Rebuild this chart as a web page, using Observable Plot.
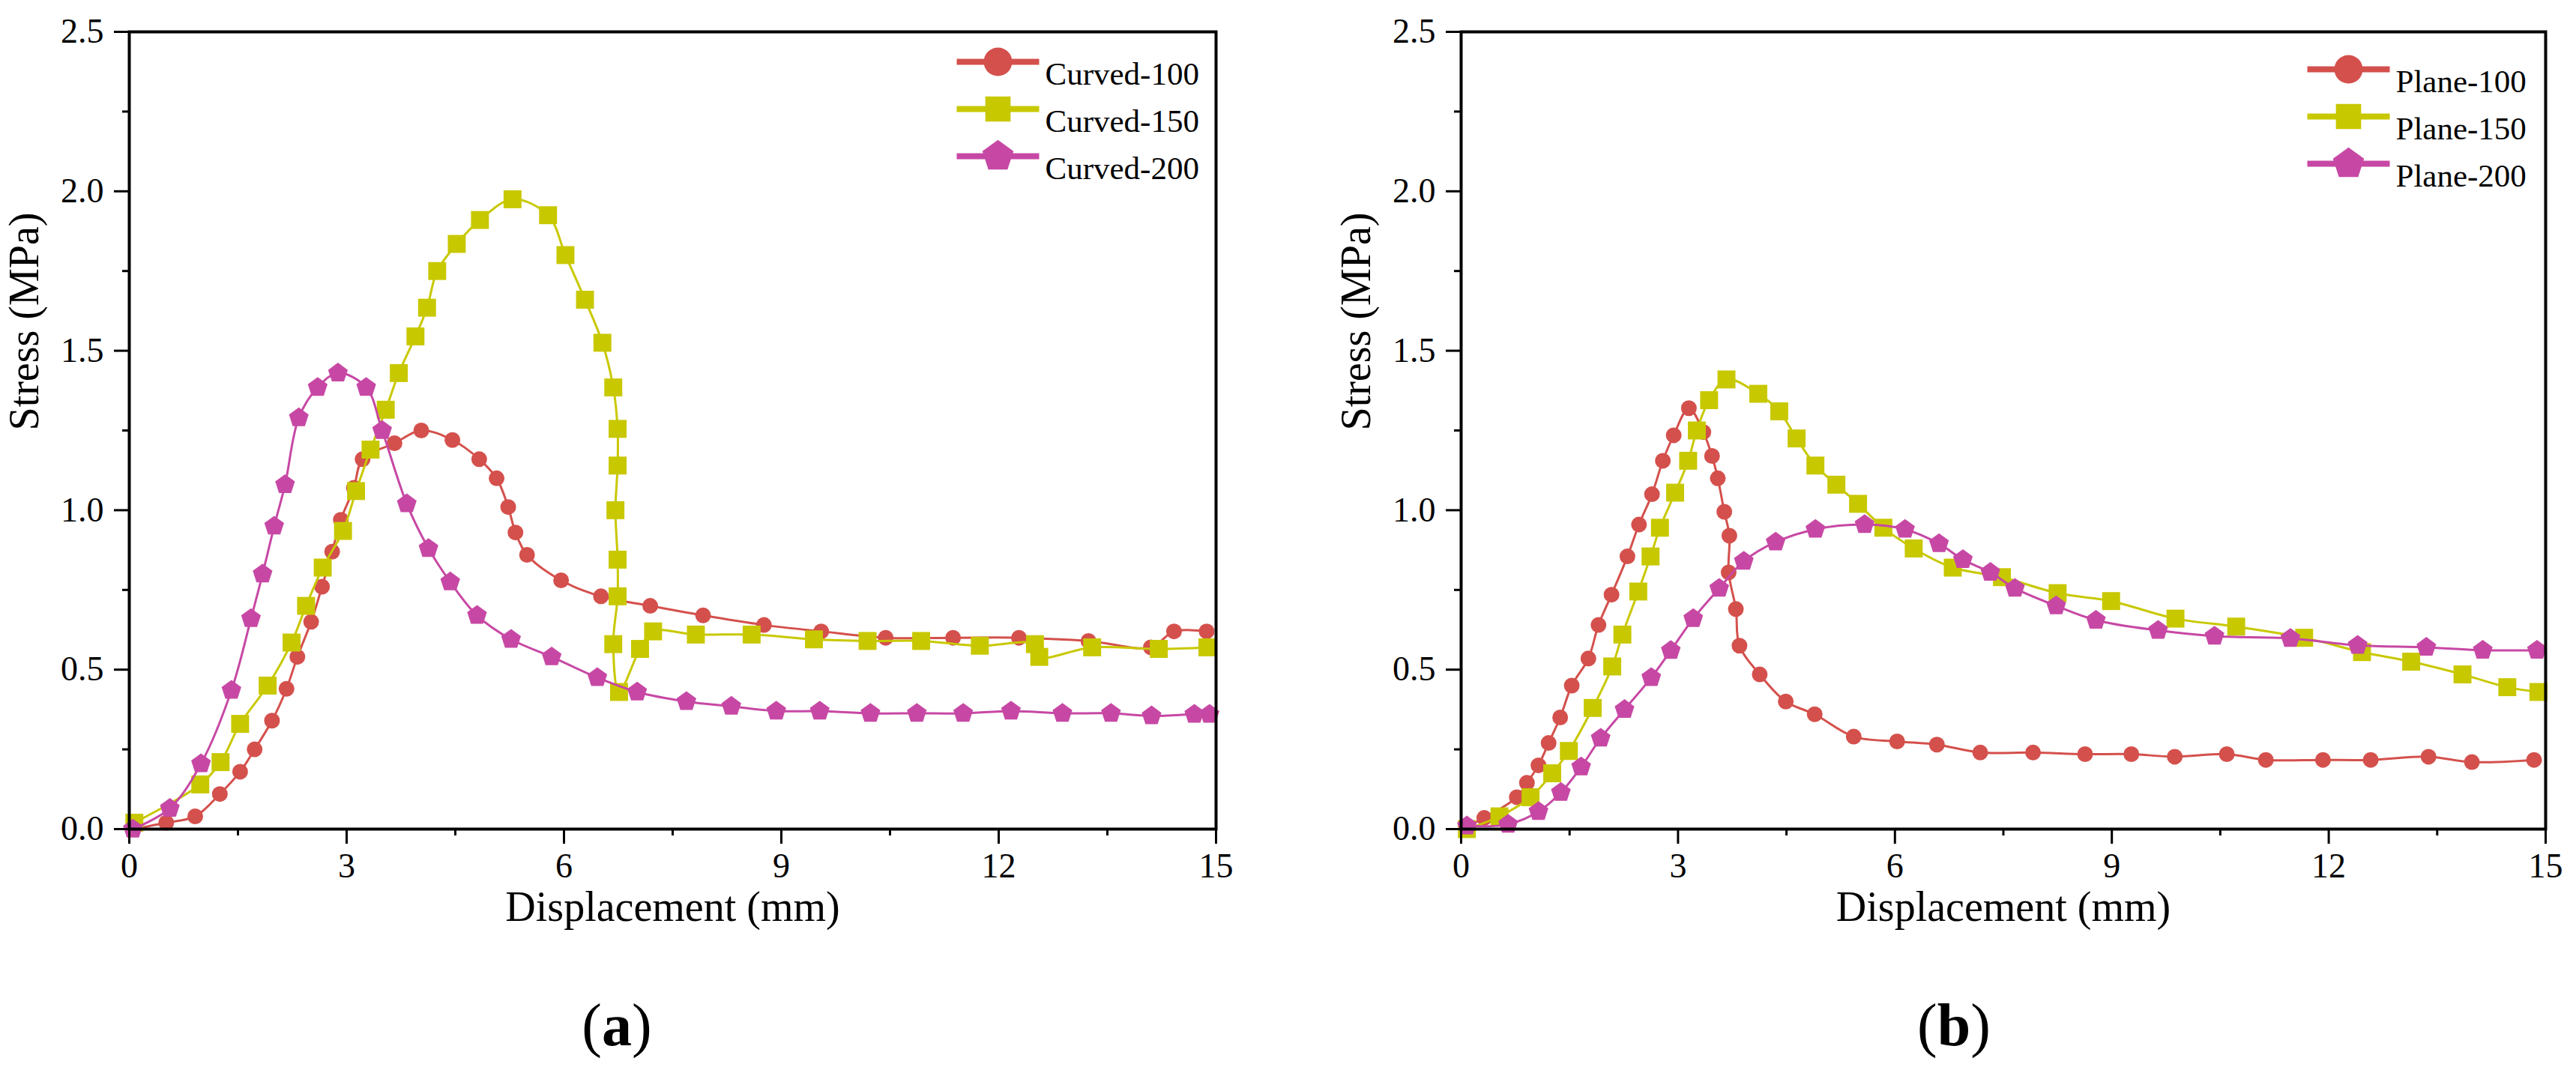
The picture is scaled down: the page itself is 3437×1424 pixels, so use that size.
<!DOCTYPE html>
<html>
<head>
<meta charset="utf-8">
<script src="https://cdn.jsdelivr.net/npm/d3@7"></script>
<script src="https://cdn.jsdelivr.net/npm/@observablehq/plot@0.6"></script>
<style>
  body { margin: 0; background: #fff; font-family: "Liberation Serif", "Times New Roman", serif; }
  #page { position: relative; width: 3437px; height: 1424px; background: #fff; overflow: hidden; }
  .panel { position: absolute; top: 0; }
  .cap { position: absolute; font-family: "Liberation Serif", "Times New Roman", serif; font-size: 80px;
         line-height: 1; transform: translate(-50%, -50%); color: #000; }
</style>
</head>
<body>
<div id="page">
  <div id="left" class="panel" style="left:0px;width:1718px"></div>
  <div id="right" class="panel" style="left:1777px;width:1660px"></div>
  <div class="cap" style="left:823px;top:1368px">(<b>a</b>)</div>
  <div class="cap" style="left:2607px;top:1368px">(<b>b</b>)</div>
</div>
<script>
// ---- panel (a): curved
const curved100X = [0.05, 0.51, 0.91, 1.25, 1.53, 1.73, 1.97, 2.17, 2.32, 2.51, 2.66, 2.80, 2.92, 3.10, 3.22, 3.66, 4.03, 4.46, 4.83, 5.07, 5.23, 5.33, 5.49, 5.96, 6.51, 7.19, 7.92, 8.76, 9.55, 10.44, 11.37, 12.28, 13.24, 14.10, 14.42, 14.87];
const curved100Y = [0.00, 0.02, 0.04, 0.11, 0.18, 0.25, 0.34, 0.44, 0.54, 0.65, 0.76, 0.87, 0.97, 1.07, 1.16, 1.21, 1.25, 1.22, 1.16, 1.10, 1.01, 0.93, 0.86, 0.78, 0.73, 0.70, 0.67, 0.64, 0.62, 0.60, 0.60, 0.60, 0.59, 0.57, 0.62, 0.62];

const curved150X = [0.07, 0.98, 1.26, 1.53, 1.91, 2.24, 2.44, 2.67, 2.95, 3.13, 3.33, 3.54, 3.72, 3.95, 4.11, 4.25, 4.52, 4.84, 5.29, 5.78, 6.02, 6.29, 6.53, 6.68, 6.74, 6.74, 6.71, 6.74, 6.74, 6.68, 6.76, 7.05, 7.23, 7.82, 8.59, 9.45, 10.19, 10.93, 11.74, 12.50, 12.56, 13.29, 14.21, 14.88];
const curved150Y = [0.02, 0.14, 0.21, 0.33, 0.45, 0.585, 0.70, 0.82, 0.935, 1.06, 1.19, 1.315, 1.43, 1.545, 1.635, 1.75, 1.835, 1.91, 1.975, 1.925, 1.80, 1.66, 1.525, 1.385, 1.255, 1.14, 1.00, 0.845, 0.73, 0.58, 0.43, 0.565, 0.62, 0.61, 0.61, 0.595, 0.59, 0.59, 0.575, 0.58, 0.54, 0.57, 0.565, 0.57];

const curved200X = [0.05, 0.56, 0.99, 1.41, 1.68, 1.84, 2.00, 2.15, 2.34, 2.60, 2.88, 3.27, 3.49, 3.83, 4.13, 4.43, 4.80, 5.27, 5.83, 6.46, 7.01, 7.69, 8.31, 8.93, 9.53, 10.23, 10.87, 11.51, 12.17, 12.88, 13.55, 14.11, 14.70, 14.91];
const curved200Y = [0.00, 0.065, 0.205, 0.435, 0.66, 0.80, 0.95, 1.08, 1.29, 1.385, 1.43, 1.385, 1.25, 1.02, 0.88, 0.775, 0.67, 0.595, 0.54, 0.475, 0.43, 0.40, 0.385, 0.37, 0.37, 0.363, 0.363, 0.363, 0.37, 0.363, 0.363, 0.355, 0.36, 0.36];

// ---- panel (b): plane
const plane100X = [0.08, 0.32, 0.77, 0.91, 1.07, 1.21, 1.37, 1.53, 1.76, 1.90, 2.08, 2.30, 2.46, 2.64, 2.79, 2.94, 3.15, 3.35, 3.47, 3.55, 3.64, 3.71, 3.70, 3.80, 3.85, 4.13, 4.49, 4.89, 5.43, 6.03, 6.58, 7.18, 7.91, 8.63, 9.27, 9.87, 10.59, 11.13, 11.92, 12.58, 13.38, 13.98, 14.84];
const plane100Y = [0.01, 0.035, 0.10, 0.145, 0.20, 0.27, 0.35, 0.45, 0.535, 0.64, 0.735, 0.855, 0.955, 1.05, 1.155, 1.235, 1.32, 1.245, 1.17, 1.10, 0.995, 0.92, 0.805, 0.69, 0.575, 0.485, 0.40, 0.36, 0.29, 0.275, 0.265, 0.24, 0.24, 0.235, 0.235, 0.227, 0.235, 0.217, 0.217, 0.217, 0.227, 0.21, 0.217];

const plane150X = [0.08, 0.53, 0.96, 1.26, 1.49, 1.82, 2.09, 2.23, 2.45, 2.62, 2.75, 2.96, 3.14, 3.26, 3.43, 3.67, 4.11, 4.40, 4.64, 4.90, 5.19, 5.49, 5.84, 6.26, 6.80, 7.48, 8.25, 8.99, 9.88, 10.72, 11.66, 12.46, 13.14, 13.85, 14.47, 14.90];
const plane150Y = [0.00, 0.04, 0.10, 0.175, 0.245, 0.38, 0.51, 0.61, 0.745, 0.855, 0.945, 1.055, 1.155, 1.25, 1.345, 1.41, 1.365, 1.31, 1.225, 1.14, 1.08, 1.02, 0.945, 0.88, 0.82, 0.79, 0.74, 0.715, 0.66, 0.635, 0.60, 0.555, 0.525, 0.485, 0.445, 0.43];

const plane200X = [0.08, 0.65, 1.07, 1.38, 1.66, 1.93, 2.26, 2.63, 2.90, 3.21, 3.57, 3.91, 4.35, 4.90, 5.58, 6.14, 6.61, 6.94, 7.32, 7.66, 8.23, 8.78, 9.64, 10.42, 11.47, 12.40, 13.35, 14.13, 14.88];
const plane200Y = [0.01, 0.015, 0.055, 0.115, 0.195, 0.285, 0.375, 0.475, 0.56, 0.66, 0.755, 0.84, 0.90, 0.94, 0.955, 0.94, 0.895, 0.845, 0.805, 0.755, 0.70, 0.655, 0.623, 0.605, 0.598, 0.576, 0.57, 0.561, 0.561];

const xMajor = [0, 3, 6, 9, 12, 15];
const xMinor = [1.5, 4.5, 7.5, 10.5, 13.5];
const yMajor = [0, 0.5, 1.0, 1.5, 2.0, 2.5];
const yMinor = [0.25, 0.75, 1.25, 1.75, 2.25];

const colors = ["#d4504c", "#c8c800", "#c748a4"];
const font = "'Liberation Serif', 'Times New Roman', serif";

// pentagon marker (not in Plot's named symbols)
const pentagon = {
  draw(ctx, size) {
    const R = Math.sqrt(size / 2.378);
    for (let k = 0; k < 5; k++) {
      const a = -Math.PI / 2 + k * 2 * Math.PI / 5;
      const px = R * Math.cos(a), py = R * Math.sin(a);
      k ? ctx.lineTo(px, py) : ctx.moveTo(px, py);
    }
    ctx.closePath();
  }
};
// short line used behind each legend marker
const dash = {
  draw(ctx) { ctx.moveTo(-55, 0); ctx.lineTo(55, 0); }
};
const shapes = [d3.symbolCircle, d3.symbolSquare, pentagon];
const markR = [10.5, 13.5, 12];

const rows = (xs, ys) => xs.map((x, i) => ({x, y: ys[i]}));

function panel(series, names, opts) {
  const marks = [];
  series.forEach((s, i) => {
    marks.push(Plot.line(s, {x: "x", y: "y", stroke: colors[i], strokeWidth: 3, curve: "catmull-rom"}));
    marks.push(Plot.dot(s, {x: "x", y: "y", symbol: shapes[i], r: markR[i], fill: colors[i], stroke: "none"}));
  });
  names.forEach((name, i) => {
    const dy = opts.legendTop + i * 63;
    marks.push(Plot.dot([name], {frameAnchor: "top-right", dx: opts.legendDx, dy, symbol: dash, r: 10,
      fill: "none", stroke: colors[i], strokeWidth: 8}));
    marks.push(Plot.dot([name], {frameAnchor: "top-right", dx: opts.legendDx, dy, symbol: shapes[i], r: 19,
      fill: colors[i], stroke: "none"}));
    marks.push(Plot.text([name], {text: d => d, frameAnchor: "top-right", dx: opts.legendDx + 63, dy,
      textAnchor: "start", fontSize: 43, fill: "black"}));
  });
  marks.push(
    Plot.axisX({ticks: xMajor, tickSize: 20, tickPadding: 12, strokeWidth: 3, fontSize: 46, label: null, tickFormat: d3.format("d")}),
    Plot.axisX({ticks: xMinor, tickSize: 9, strokeWidth: 3, label: null, tickFormat: () => ""}),
    Plot.axisY({ticks: yMajor, tickSize: 20, tickPadding: 14, strokeWidth: 3, fontSize: 46, label: null, tickFormat: d3.format(".1f")}),
    Plot.axisY({ticks: yMinor, tickSize: 9, strokeWidth: 3, label: null, tickFormat: () => ""}),
    Plot.frame({stroke: "black", strokeWidth: 4}),
    Plot.text(["Displacement (mm)"], {text: d => d, frameAnchor: "bottom", dy: 122, fontSize: 56, fill: "black"}),
    Plot.text(["Stress (MPa)"], {text: d => d, frameAnchor: "left", dx: -139, rotate: -90, fontSize: 56, fill: "black"})
  );
  return Plot.plot({
    width: opts.width,
    height: 1300,
    marginLeft: 172,
    marginRight: opts.marginRight,
    marginTop: 42,
    marginBottom: 194,
    x: {domain: [0, 15]},
    y: {domain: [0, 2.5]},
    style: {fontFamily: font, background: "white", color: "black", overflow: "visible"},
    marks
  });
}

const left = panel(
  [rows(curved100X, curved100Y), rows(curved150X, curved150Y), rows(curved200X, curved200Y)],
  ["Curved-100", "Curved-150", "Curved-200"],
  {width: 1718, marginRight: 96, legendDx: -291, legendTop: 40}
);
const right = panel(
  [rows(plane100X, plane100Y), rows(plane150X, plane150Y), rows(plane200X, plane200Y)],
  ["Plane-100", "Plane-150", "Plane-200"],
  {width: 1660, marginRight: 41, legendDx: -263, legendTop: 50}
);
d3.select("#left").append(() => left);
d3.select("#right").append(() => right);
</script>
</body>
</html>
